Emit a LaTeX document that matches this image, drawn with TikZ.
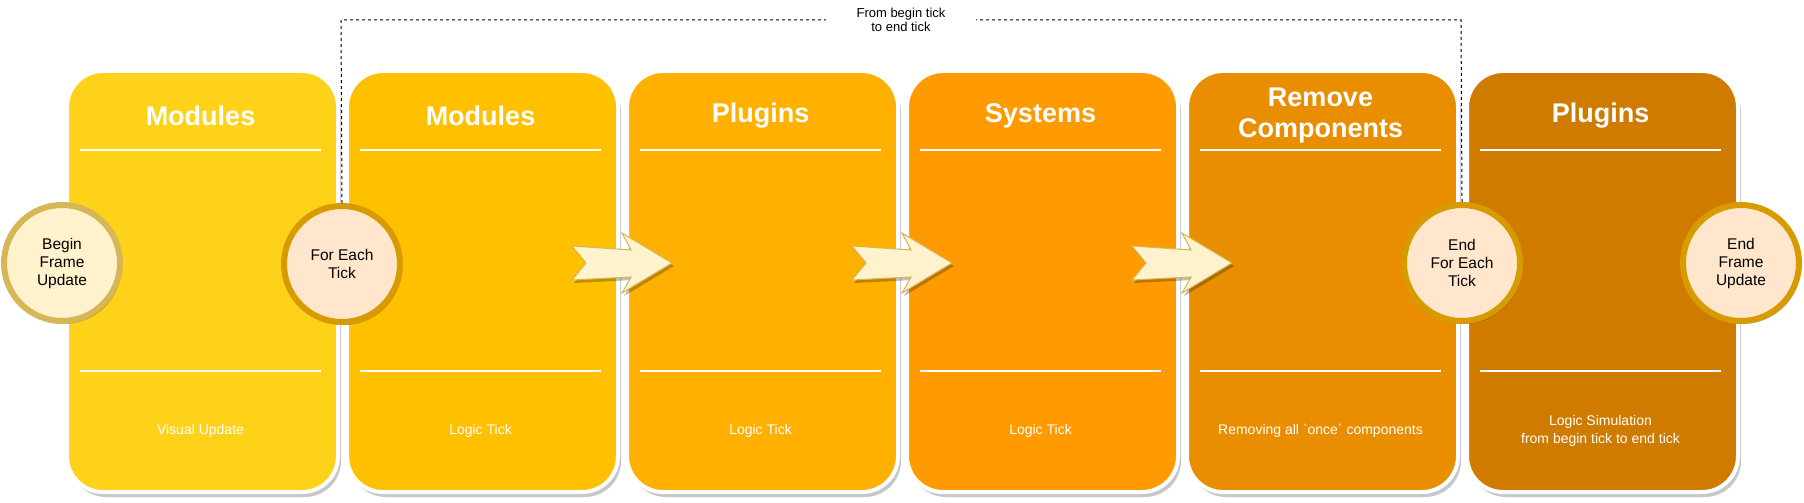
\documentclass[tikz,border=0pt]{standalone}
\usepackage{fontspec}
\setmainfont{Liberation Sans}
\usetikzlibrary{shadows}
\definecolor{cA}{HTML}{FDD219}
\definecolor{cB}{HTML}{FFC000}
\definecolor{cC}{HTML}{FFB000}
\definecolor{cD}{HTML}{FF9B00}
\definecolor{cE}{HTML}{E88E00}
\definecolor{cF}{HTML}{CE7B00}
\definecolor{yfill}{HTML}{FFF2CC}
\definecolor{ystroke}{HTML}{D6B656}
\definecolor{ofill}{HTML}{FFE6CC}
\definecolor{ostroke}{HTML}{D79B00}
\begin{document}
\begin{tikzpicture}[x=1pt,y=-1pt,
  card/.style={draw=white, line width=4pt, rounded corners=36pt, minimum width=271pt, minimum height=421pt, anchor=north west, inner sep=0pt,
    drop shadow={shadow xshift=3pt, shadow yshift=-5pt, fill=black, opacity=0.22}},
  sep/.style={draw=white, line width=2pt},
  ttl/.style={text=white, font=\fontsize{27}{31}\selectfont\bfseries, align=center},
  body/.style={text=white, font=\fontsize{14}{18}\selectfont, align=center},
  evt/.style={circle, minimum size=116pt, line width=6pt, inner sep=0pt, align=center, text=black,
    font=\fontsize{15.5}{18}\selectfont,
    drop shadow={shadow xshift=2pt, shadow yshift=-3pt, fill=black, opacity=0.25}},
  yevt/.style={evt, fill=yfill, draw=ystroke},
  oevt/.style={evt, fill=ofill, draw=ostroke},
  blockarrow/.style={fill=yfill, draw=ystroke, line width=1pt, line join=miter,
    drop shadow={shadow xshift=2pt, shadow yshift=-3pt, fill=black, opacity=0.25}},
  dline/.style={draw=black, line width=1pt, dash pattern=on 3pt off 3pt},
  lbl/.style={fill=white, text=black, font=\fontsize{13}{14}\selectfont, align=center, inner xsep=31pt, inner ysep=1pt}
]
\useasboundingbox (0,0) rectangle (1804,503);

% cards
\foreach \i/\c in {0/cA,1/cB,2/cC,3/cD,4/cE,5/cF}{
  \node[card, fill=\c] (k\i) at ({65+280*\i},69) {};
  \draw[sep] ({80+280*\i},150) -- ({321+280*\i},150);
  \draw[sep] ({80+280*\i},371) -- ({321+280*\i},371);
}

% titles
\node[ttl] (t0) at (200.5,116) {Modules};
\node[ttl] (t1) at (480.5,116) {Modules};
\node[ttl] (t2) at (760.5,116) {Plugins};
\node[ttl] (t3) at (1040.5,116) {Systems};
\node[ttl] (t4) at (1320.5,116) {Remove\\Components};
\node[ttl] (t5) at (1600.5,116) {Plugins};

% body texts
\node[body] (b0) at (200.5,431) {Visual Update};
\node[body] (b1) at (480.5,431) {Logic Tick};
\node[body] (b2) at (760.5,431) {Logic Tick};
\node[body] (b3) at (1040.5,431) {Logic Tick};
\node[body] (b4) at (1320.5,431) {Removing all \textasciigrave once\textasciigrave{} components};
\node[body] (b5) at (1600.5,431) {Logic Simulation\\from begin tick to end tick};

% block arrows
\foreach \d in {0,280,560}{
  \begin{scope}[shift={(572+\d,263)}]
    \draw[blockarrow] (0,-17) -- (14,0) -- (0,17) -- (59,14) -- (50,30) -- (100,0) -- (50,-30) -- (59,-13) -- cycle;
  \end{scope}
}

% dashed bracket
\coordinate (ftop) at (341,20);
\coordinate (etop) at (1461,20);
\node[oevt] (fe) at (342,264) {For Each\\Tick};
\node[oevt] (efe) at (1462,263) {End\\For Each\\Tick};
\draw[dline] (fe.north) -- (ftop) -- node[lbl] {From begin tick\\to end tick} (etop) -- (efe.north);

% event circles
\node[yevt] (bfu) at (62,263) {Begin\\Frame\\Update};
\node[oevt] (efu) at (1741,263) {End\\Frame\\Update};
\end{tikzpicture}
\end{document}
